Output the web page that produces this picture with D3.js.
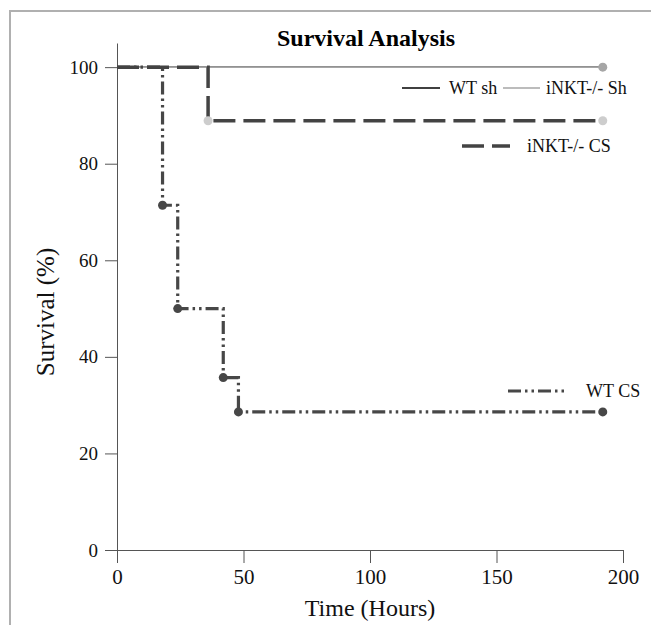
<!DOCTYPE html>
<html>
<head>
<meta charset="utf-8">
<script src="https://cdn.jsdelivr.net/npm/d3@7"></script>
<style>
  body { margin: 0; background: #fff; }
  svg { display: block; }
</style>
</head>
<body>
<div id="chart"></div>
<script>
// Survival data (hours, % surviving)
var wtShTime = [0, 192];
var wtShSurv = [100, 100];
var inktShTime = [0, 192];
var inktShSurv = [100, 100];
var inktCsTime = [0, 36, 192];
var inktCsSurv = [100, 88.9, 88.9];
var wtCsTime = [0, 18, 24, 42, 48, 192];
var wtCsSurv = [100, 71.4, 50, 35.7, 28.6, 28.6];

var xTicks = [0, 50, 100, 150, 200];
var yTicks = [0, 20, 40, 60, 80, 100];

var width = 651, height = 625;
var margin = {top: 43, right: 28, bottom: 75, left: 117};
var serif = "'Liberation Serif', 'Times New Roman', serif";

var svg = d3.select("#chart").append("svg")
    .attr("width", width)
    .attr("height", height)
    .style("font-family", serif);

// outer frame
svg.append("rect")
  .attr("x", 10).attr("y", 11)
  .attr("width", 700).attr("height", 700)
  .attr("fill", "none")
  .attr("stroke", "#b0b0b0")
  .attr("stroke-width", 2);

var x = d3.scaleLinear().domain([0, 200]).range([margin.left, width - margin.right]);
var y = d3.scaleLinear().domain([0, 105]).range([height - margin.bottom, margin.top]);

function zip(t, s) { return t.map(function(d, i) { return [d, s[i]]; }); }

var series = [
  {name: "WT sh", data: zip(wtShTime, wtShSurv), color: "#000", width: 1.5, dash: null, dots: null},
  {name: "iNKT-/- Sh", data: zip(inktShTime, inktShSurv), color: "#a6a6a6", width: 1.5, dash: null, dots: "#a6a6a6"},
  {name: "WT CS", data: zip(wtCsTime, wtCsSurv), color: "#474747", width: 3.2, dash: "13,4,2.5,4,2.5,4", dots: "#474747"},
  {name: "iNKT-/- CS", data: zip(inktCsTime, inktCsSurv), color: "#434343", width: 3.5, dash: "22,8", dots: "#cdcdcd"}
];

var line = d3.line()
    .x(function(d) { return x(d[0]); })
    .y(function(d) { return y(d[1]); })
    .curve(d3.curveStepAfter);

// axes
var xAxis = svg.append("g")
    .attr("transform", "translate(0," + y(0) + ")")
    .call(d3.axisBottom(x).tickValues(xTicks).tickSize(13).tickSizeOuter(0).tickPadding(6));
var yAxis = svg.append("g")
    .attr("transform", "translate(" + x(0) + ",0)")
    .call(d3.axisLeft(y).tickValues(yTicks).tickSize(12).tickSizeOuter(0).tickPadding(7));

[xAxis, yAxis].forEach(function(a) {
  a.selectAll("path, line").attr("stroke", "#555");
  a.selectAll("text").attr("fill", "#111").style("font-family", serif);
});
xAxis.selectAll("text").style("font-size", "21px");
yAxis.selectAll("text").style("font-size", "19px");

series.forEach(function(s) {
  svg.append("path")
    .attr("d", line(s.data))
    .attr("fill", "none")
    .attr("stroke", s.color)
    .attr("stroke-width", s.width)
    .attr("stroke-dasharray", s.dash);
});

series.forEach(function(s) {
  if (!s.dots) return;
  svg.selectAll(null)
    .data(s.data.slice(1))
    .enter().append("circle")
    .attr("cx", function(d) { return x(d[0]); })
    .attr("cy", function(d) { return y(d[1]); })
    .attr("r", 4.5)
    .attr("fill", s.dots);
});

// title and axis labels
svg.append("text")
  .attr("x", 366).attr("y", 46)
  .attr("text-anchor", "middle")
  .style("font-size", "24px").style("font-weight", "bold")
  .text("Survival Analysis");

svg.append("text")
  .attr("x", 370).attr("y", 616)
  .attr("text-anchor", "middle")
  .style("font-size", "24px")
  .attr("fill", "#111")
  .text("Time (Hours)");

svg.append("text")
  .attr("transform", "translate(54,312) rotate(-90)")
  .attr("text-anchor", "middle")
  .style("font-size", "25px")
  .attr("fill", "#111")
  .text("Survival (%)");

// legend
var legend = [
  {s: series[0], x1: 402, x2: 440, y: 88, tx: 449},
  {s: series[1], x1: 503, x2: 540, y: 88, tx: 546},
  {s: series[3], x1: 462, x2: 510, y: 146, tx: 527},
  {s: series[2], x1: 508, x2: 565, y: 391, tx: 586}
];
legend.forEach(function(l) {
  svg.append("line")
    .attr("x1", l.x1).attr("x2", l.x2)
    .attr("y1", l.y).attr("y2", l.y)
    .attr("stroke", l.s.color)
    .attr("stroke-width", l.s.width)
    .attr("stroke-dasharray", l.s.dash);
  svg.append("text")
    .attr("x", l.tx).attr("y", l.y + 6)
    .style("font-size", "18px")
    .attr("fill", "#111")
    .text(l.s.name);
});
</script>
</body>
</html>
